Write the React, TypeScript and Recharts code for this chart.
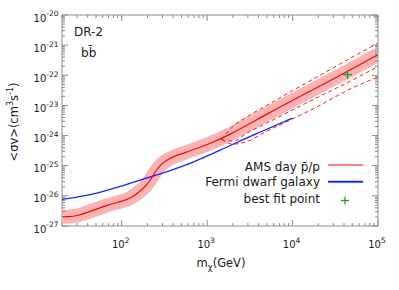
import React from 'react';
import { ComposedChart, Line, XAxis, YAxis, ReferenceArea, ReferenceDot } from 'recharts';

// ---------- data (natural units) ----------
const amsMass = [20, 24, 30, 45, 70, 100, 130, 160, 190, 220, 250, 290, 350, 450, 600, 1000, 1700, 5000, 12000, 43000, 100000];
const amsSigma = [2.07e-27, 2.0e-27, 2.15e-27, 3.2e-27, 5.1e-27, 6.5e-27, 8.5e-27, 1.35e-26, 2.05e-26, 3.6e-26, 6.6e-26, 1.15e-25, 1.65e-25, 2.25e-25, 2.95e-25, 5.0e-25, 9.3e-25, 5.2e-24, 1.95e-23, 1.28e-22, 4.9e-22];

const fermiMass = [20, 45, 92, 225, 665, 1580, 3870, 10000];
const fermiSigma = [7.7e-27, 1.07e-26, 2.0e-26, 4.3e-26, 1.2e-25, 3.8e-25, 1.2e-24, 3.8e-24];

const contourMass = [1470, 2000, 3000, 5000, 10000, 20000, 50000, 100000];
const contourUpper = [7.4e-25, 2.0e-24, 4.4e-24, 1.0e-23, 3.1e-23, 9.3e-23, 4.0e-22, 1.15e-21];
const contourLower1 = [7.4e-25, 6.6e-25, 1.26e-24, 2.6e-24, 7.1e-24, 1.9e-23, 6.9e-23, 1.95e-22];
const contourLower2 = [7.4e-25, 5.2e-25, 6.5e-25, 1.4e-24, 3.55e-24, 9.5e-24, 3.8e-23, 8.7e-23];

const bestFitMass = 44000;
const bestFitSigma = 1.05e-22;

const xMin = 20;
const xMax = 1e5;
const yMinExp = -27;
const yMaxExp = -20;

const legendLabels = ['AMS day p\u0304/p', 'Fermi dwarf galaxy', 'best fit point'];

// ---------- helpers ----------
const toRows = (mass: number[], sig: number[]) =>
  mass.map((m, i) => ({ x: Math.log10(m), y: Math.log10(sig[i]) }));

const amsRows = toRows(amsMass, amsSigma);
const fermiRows = toRows(fermiMass, fermiSigma);
const upRows = toRows(contourMass, contourUpper);
const lo1Rows = toRows(contourMass, contourLower1);
const lo2Rows = toRows(contourMass, contourLower2);

const xTicks: number[] = [];
for (let d = 1; d <= 4; d++) {
  for (let k = 1; k <= 9; k++) {
    const v = k * Math.pow(10, d);
    if (v >= xMin && v <= xMax) xTicks.push(Math.log10(v));
  }
}
xTicks.push(Math.log10(xMax));

const yTicks: number[] = [];
for (let n = yMinExp; n < yMaxExp; n++) {
  for (let k = 1; k <= 9; k++) yTicks.push(n + Math.log10(k));
}
yTicks.push(yMaxExp);

// ---------- layout ----------
const W = 399;
const H = 290;
const PL = 62, PT = 15, PR = 378, PB = 226;
const AXIS = '#8a8a8a';
const FONT = '"DejaVu Sans", sans-serif';
const TXT = '#1a1a1a';

const isMajor = (v: number) => Math.abs(v - Math.round(v)) < 1e-6;

const XTick = (props: any) => {
  const { x, payload } = props;
  const v = payload.value;
  const maj = isMajor(v);
  const len = maj ? 6 : 3;
  return (
    <g>
      <line x1={x} x2={x} y1={PB} y2={PB - len} stroke={AXIS} strokeWidth={1} />
      <line x1={x} x2={x} y1={PT} y2={PT + len} stroke={AXIS} strokeWidth={1} />
      {maj && (
        <text x={x - 1} y={247.5} textAnchor="middle" fontFamily={FONT} fontSize={10} fill={TXT}>
          10<tspan dy={-4.6} fontSize={7.5}>{Math.round(v)}</tspan>
        </text>
      )}
    </g>
  );
};

const YTick = (props: any) => {
  const { y, payload } = props;
  const v = payload.value;
  const maj = isMajor(v);
  const len = maj ? 6 : 3;
  return (
    <g>
      <line x1={PL} x2={PL + len} y1={y} y2={y} stroke={AXIS} strokeWidth={1} />
      <line x1={PR} x2={PR - len} y1={y} y2={y} stroke={AXIS} strokeWidth={1} />
      {maj && (
        <text x={58.5} y={y + 6.6} textAnchor="end" fontFamily={FONT} fontSize={10} fill={TXT}>
          10<tspan dy={-5.2} fontSize={7.5}>{Math.round(v)}</tspan>
        </text>
      )}
    </g>
  );
};

const Plus = (props: any) => {
  const { cx, cy } = props;
  return (
    <g>
      <line x1={cx - 4.5} x2={cx + 4.5} y1={cy} y2={cy} stroke="#2a9a2a" strokeWidth={1.4} />
      <line x1={cx} x2={cx} y1={cy - 4.5} y2={cy + 4.5} stroke="#2a9a2a" strokeWidth={1.4} />
    </g>
  );
};

export default function App() {
  return (
    <div style={{ position: 'absolute', left: 0, top: 0, width: W, height: H, background: '#fff' }}>
      <ComposedChart
        width={W}
        height={H}
        margin={{ top: PT, right: W - PR, bottom: 4, left: 2 }}
      >
        <XAxis
          type="number"
          dataKey="x"
          domain={[Math.log10(xMin), Math.log10(xMax)]}
          allowDataOverflow
          ticks={xTicks}
          interval={0}
          tick={<XTick />}
          tickLine={false}
          axisLine={false}
          height={60}
        />
        <YAxis
          type="number"
          dataKey="y"
          domain={[yMinExp, yMaxExp]}
          allowDataOverflow
          ticks={yTicks}
          interval={0}
          tick={<YTick />}
          tickLine={false}
          axisLine={false}
          width={60}
        />
        <Line data={amsRows} dataKey="y" type="basis" stroke="#f9b3b3" strokeWidth={14} dot={false} activeDot={false} isAnimationActive={false} />
        <Line data={fermiRows} dataKey="y" type="basis" stroke="#0a28ff" strokeWidth={1.3} dot={false} activeDot={false} isAnimationActive={false} />
        <Line data={upRows} dataKey="y" type="monotone" stroke="#ff1a1a" strokeWidth={1} strokeDasharray="4 3" dot={false} activeDot={false} isAnimationActive={false} />
        <Line data={lo1Rows} dataKey="y" type="monotone" stroke="#ff1a1a" strokeWidth={1} strokeDasharray="4 3" dot={false} activeDot={false} isAnimationActive={false} />
        <Line data={lo2Rows} dataKey="y" type="monotone" stroke="#ff1a1a" strokeWidth={1} strokeDasharray="4 3" dot={false} activeDot={false} isAnimationActive={false} />
        <Line data={amsRows} dataKey="y" type="basis" stroke="#ff0000" strokeWidth={1.2} dot={false} activeDot={false} isAnimationActive={false} />
        <ReferenceDot x={Math.log10(bestFitMass)} y={Math.log10(bestFitSigma)} shape={<Plus />} />
        <ReferenceArea
          x1={Math.log10(xMin)}
          x2={Math.log10(xMax)}
          y1={yMinExp}
          y2={yMaxExp}
          fill="none"
          fillOpacity={0}
          stroke={AXIS}
          strokeWidth={1}
        />
      </ComposedChart>
      <svg
        width={W}
        height={H}
        style={{ position: 'absolute', left: 0, top: 0, pointerEvents: 'none' }}
        fontFamily={FONT}
        fill={TXT}
      >
        <text x={74} y={35.5} fontSize={12}>DR-2</text>
        <text x={81} y={56.5} fontSize={12}>b{'b\u0304'}</text>

        <text x={320} y={170.5} fontSize={12} textAnchor="end">{legendLabels[0]}</text>
        <text x={320} y={186} fontSize={12} textAnchor="end">{legendLabels[1]}</text>
        <text x={320} y={203} fontSize={12} textAnchor="end">{legendLabels[2]}</text>
        <line x1={328} x2={363} y1={165} y2={165} stroke="#ff0000" strokeWidth={1} />
        <line x1={328} x2={363} y1={181.7} y2={181.7} stroke="#0a28ff" strokeWidth={2} />
        <line x1={341} x2={349} y1={200.5} y2={200.5} stroke="#2a9a2a" strokeWidth={1.3} />
        <line x1={345} x2={345} y1={196.5} y2={204.5} stroke="#2a9a2a" strokeWidth={1.3} />

        <text x={221} y={267} fontSize={11.5} textAnchor="middle">
          m<tspan dy={3} fontSize={8.5}>χ</tspan><tspan dy={-3}>(GeV)</tspan>
        </text>

        <text x={18} y={122} fontSize={11.5} textAnchor="middle" transform="rotate(-90 18 122)">
          {'<σv>(cm'}<tspan dy={-5} fontSize={8}>3</tspan><tspan dy={5}>s</tspan><tspan dy={-5} fontSize={8}>-1</tspan><tspan dy={5}>)</tspan>
        </text>
      </svg>
    </div>
  );
}
